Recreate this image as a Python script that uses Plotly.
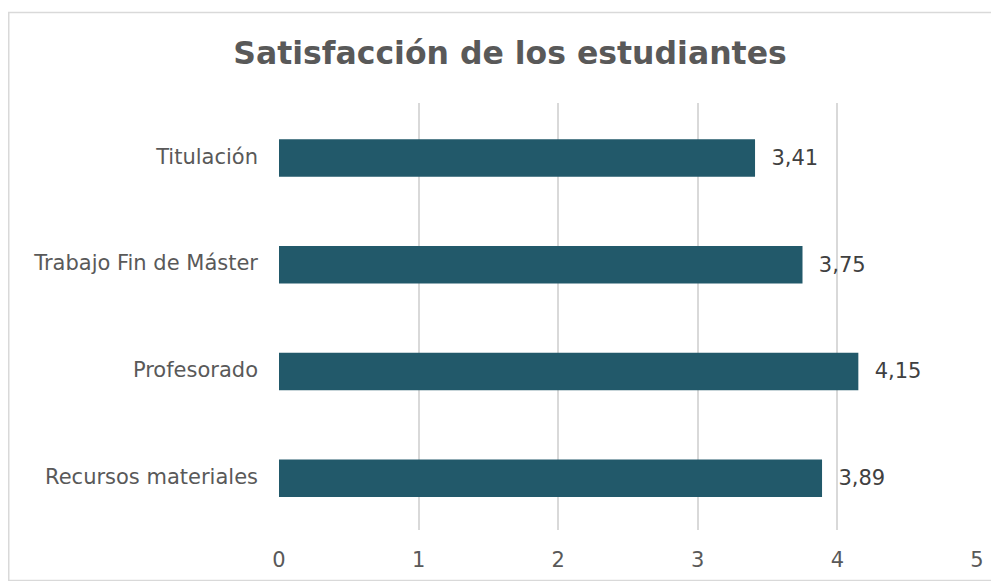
import plotly.graph_objects as go

categories = ["Titulación", "Trabajo Fin de Máster", "Profesorado", "Recursos materiales"]
values = [3.41, 3.75, 4.15, 3.89]
x_ticks = [0, 1, 2, 3, 4, 5]
title_text = "Satisfacción de los estudiantes"

labels = ["\u00a0\u00a0" + f"{v:.2f}".replace(".", ",") for v in values]

# page has an 8px body margin; figure is sized/offset to compensate
OFF = 8
W, H = 999 - OFF, 581 - OFF
ml, mr, mt, mb = 279 - OFF, 22, 103 - OFF, 51
pw, ph = W - ml - mr, H - mt - mb

def px_x(p):
    return (p - ml) / pw

def px_y(p):
    return (H - mb - p) / ph

FONT = "DejaVu Sans"

fig = go.Figure()
fig.add_trace(go.Bar(
    y=categories, x=values, orientation="h",
    marker=dict(color="#22596A", line=dict(width=0)),
    text=labels, textposition="outside", cliponaxis=False,
    textfont=dict(family=FONT, size=21, color="#404040"),
    width=0.35, offset=-0.16,
    hoverinfo="skip",
))

fig.update_layout(
    width=W, height=H,
    margin=dict(l=ml, r=mr, t=mt, b=mb, autoexpand=False),
    paper_bgcolor="white", plot_bgcolor="white",
    showlegend=False,
    title=dict(text=f"<b>{title_text}</b>", x=(510 - OFF) / W, xanchor="center",
               y=1 - (53 - OFF) / H, yanchor="middle",
               font=dict(family=FONT, size=31.5, color="#595959")),
    xaxis=dict(range=[0, 5], tickvals=x_ticks, showgrid=True, gridcolor="#D9D9D9",
               gridwidth=1.5, zeroline=False, showline=False, ticks="",
               ticklabelstandoff=15,
               tickfont=dict(family=FONT, size=21, color="#595959")),
    yaxis=dict(autorange="reversed", showgrid=False, zeroline=False, showline=False,
               ticks="", ticklabelstandoff=20,
               tickfont=dict(family=FONT, size=21, color="#595959")),
    shapes=[dict(type="rect", xref="paper", yref="paper",
                 x0=px_x(0.75), x1=px_x(990), y0=px_y(572.5), y1=px_y(4.5),
                 line=dict(color="#D9D9D9", width=1.5), layer="below")],
)
fig.write_html("out.html")
